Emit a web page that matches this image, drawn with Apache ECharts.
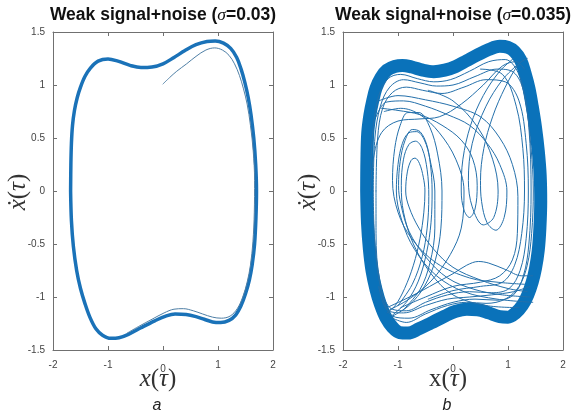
<!DOCTYPE html>
<html>
<head>
<meta charset="utf-8">
<script src="https://cdn.jsdelivr.net/npm/echarts/dist/echarts.min.js"></script>
<style>
html,body{margin:0;padding:0;background:#fff}
#chart{width:576px;height:417px}
</style>
</head>
<body>
<div id="chart"></div>
<script>
// Axis ranges and tick labels shared by both panels
const xTicks = [-2, -1, 0, 1, 2];
const yTicks = [-1.5, -1, -0.5, 0, 0.5, 1, 1.5];
const titles = ['0.03', '0.035'];
const panelLetters = ['a', 'b'];

// Panel a: settled limit cycle (clockwise) and the start-up transient
const cycleA = [[-1.68,0],[-1.675,0.25],[-1.665,0.45],[-1.645,0.62],[-1.61,0.76],[-1.56,0.88],[-1.5,0.98],[-1.42,1.08],[-1.32,1.16],[-1.18,1.225],[-1.0,1.245],[-0.82,1.225],[-0.6,1.185],[-0.4,1.165],[-0.2,1.17],[0.0,1.2],[0.2,1.26],[0.4,1.325],[0.6,1.38],[0.8,1.41],[0.95,1.415],[1.1,1.395],[1.23,1.345],[1.34,1.26],[1.42,1.15],[1.49,1.02],[1.55,0.88],[1.6,0.72],[1.65,0.5],[1.685,0.25],[1.70,0],[1.69,-0.25],[1.665,-0.5],[1.62,-0.7],[1.57,-0.84],[1.5,-0.97],[1.42,-1.08],[1.32,-1.17],[1.2,-1.22],[1.05,-1.24],[0.9,-1.235],[0.75,-1.21],[0.6,-1.185],[0.42,-1.165],[0.22,-1.16],[0.05,-1.18],[-0.15,-1.225],[-0.4,-1.29],[-0.62,-1.35],[-0.8,-1.385],[-0.95,-1.39],[-1.1,-1.36],[-1.22,-1.3],[-1.33,-1.19],[-1.42,-1.06],[-1.5,-0.92],[-1.57,-0.75],[-1.63,-0.52],[-1.665,-0.28],[-1.68,0]];
const transientA = [[0.0,1.01],[0.12,1.07],[0.25,1.13],[0.43,1.2],[0.6,1.27],[0.78,1.33],[0.94,1.35],[1.08,1.33],[1.2,1.28],[1.3,1.2],[1.39,1.09],[1.46,0.97],[1.53,0.82],[1.59,0.62],[1.64,0.38],[1.665,0.1],[1.66,-0.2],[1.635,-0.48],[1.59,-0.7],[1.53,-0.86],[1.45,-1.0],[1.35,-1.11],[1.22,-1.18],[1.06,-1.2],[0.9,-1.19],[0.72,-1.16],[0.55,-1.13],[0.37,-1.11],[0.2,-1.115],[0.02,-1.15],[-0.2,-1.21],[-0.45,-1.28],[-0.65,-1.34]];

// Panel b: dense outer band (centre line) and the inner excursions
const bandB = [[-1.57,0],[-1.565,0.3],[-1.55,0.55],[-1.51,0.72],[-1.46,0.85],[-1.4,0.97],[-1.31,1.07],[-1.2,1.14],[-1.06,1.175],[-0.92,1.185],[-0.75,1.17],[-0.55,1.14],[-0.35,1.125],[-0.15,1.14],[0.05,1.175],[0.25,1.23],[0.45,1.285],[0.65,1.335],[0.85,1.365],[1.0,1.355],[1.12,1.315],[1.23,1.235],[1.31,1.11],[1.38,0.97],[1.44,0.8],[1.5,0.6],[1.55,0.38],[1.585,0.15],[1.595,-0.1],[1.58,-0.35],[1.55,-0.56],[1.5,-0.73],[1.44,-0.86],[1.36,-0.98],[1.26,-1.08],[1.14,-1.15],[1.0,-1.19],[0.85,-1.185],[0.65,-1.15],[0.45,-1.12],[0.25,-1.115],[0.05,-1.135],[-0.15,-1.18],[-0.4,-1.245],[-0.62,-1.3],[-0.82,-1.34],[-0.97,-1.335],[-1.1,-1.285],[-1.22,-1.195],[-1.32,-1.07],[-1.4,-0.93],[-1.47,-0.76],[-1.52,-0.55],[-1.555,-0.3],[-1.57,0]];
const orbitB1 = [[1.35,-0.95],[1.0,-0.92],[0.5,-0.84],[0.0,-0.72],[-0.35,-0.55],[-0.62,-0.35],[-0.8,-0.15],[-0.86,0.0],[-0.83,0.18],[-0.76,0.29],[-0.69,0.31],[-0.61,0.26],[-0.54,0.13],[-0.51,0.0],[-0.53,-0.2],[-0.6,-0.45],[-0.72,-0.7],[-0.88,-0.92],[-1.05,-1.08],[-1.2,-1.15]];
const orbitB2 = [[1.4,-1.0],[0.9,-0.98],[0.4,-0.93],[-0.1,-0.82],[-0.5,-0.62],[-0.8,-0.38],[-0.95,-0.12],[-0.99,0.05],[-0.96,0.28],[-0.87,0.48],[-0.74,0.58],[-0.6,0.56],[-0.48,0.44],[-0.41,0.25],[-0.38,0.0],[-0.4,-0.3],[-0.48,-0.58],[-0.63,-0.85],[-0.85,-1.05],[-1.1,-1.17]];
const orbitB3 = [[1.45,-1.05],[0.8,-1.02],[0.2,-0.95],[-0.3,-0.8],[-0.7,-0.55],[-0.93,-0.28],[-1.03,0.0],[-1.0,0.25],[-0.92,0.45],[-0.8,0.55],[-0.66,0.56],[-0.52,0.48],[-0.42,0.3],[-0.33,0.0],[-0.33,-0.35],[-0.42,-0.68],[-0.6,-0.93],[-0.9,-1.12]];
const orbitB4 = [[1.3,-0.88],[0.8,-0.86],[0.3,-0.82],[-0.3,-0.68],[-0.75,-0.45],[-1.0,-0.2],[-1.1,0.1],[-1.06,0.4],[-0.96,0.62],[-0.82,0.74],[-0.62,0.74],[-0.42,0.6],[-0.28,0.35],[-0.2,0.0],[-0.22,-0.35],[-0.32,-0.65],[-0.52,-0.9],[-0.8,-1.08],[-1.1,-1.18]];
const orbitB5 = [[-1.4,0.7],[-1.3,0.8],[-1.2,0.84],[-0.9,0.85],[-0.5,0.8],[-0.1,0.72],[0.3,0.62],[0.62,0.45],[0.85,0.25],[0.98,0.0],[0.93,-0.25],[0.78,-0.37],[0.62,-0.3],[0.52,-0.1],[0.5,0.1],[0.56,0.4],[0.72,0.7],[0.95,0.98],[1.2,1.2],[1.35,1.25]];
const orbitB6 = [[-1.3,0.78],[-1.0,0.76],[-0.6,0.72],[-0.2,0.62],[0.15,0.48],[0.36,0.3],[0.44,0.05],[0.4,-0.17],[0.3,-0.25],[0.2,-0.18],[0.15,0.0],[0.18,0.3],[0.32,0.62],[0.55,0.9],[0.85,1.13],[1.1,1.25]];
const orbitB7 = [[-1.5,0.0],[-1.45,0.3],[-1.3,0.55],[-1.0,0.66],[-0.6,0.68],[-0.25,0.7],[0.15,0.82],[0.55,1.0],[0.9,1.18],[1.15,1.22],[1.3,1.15]];
const orbitB8 = [[-1.45,0.0],[-1.42,0.5],[-1.32,0.8],[-1.15,0.98],[-0.9,1.05],[-0.6,1.02],[-0.3,0.99],[0.0,1.0],[0.4,1.08],[0.8,1.15],[1.1,1.12],[1.28,0.95],[1.38,0.6],[1.42,0.0],[1.38,-0.5],[1.28,-0.8],[1.1,-0.98],[0.8,-1.03],[0.4,-1.02],[0.0,-1.05],[-0.4,-1.12],[-0.8,-1.2],[-1.1,-1.18],[-1.3,-0.95],[-1.42,-0.5],[-1.45,0.0]];
const orbitB9 = [[-1.4,0.0],[-1.37,0.5],[-1.28,0.78],[-1.1,0.93],[-0.85,0.98],[-0.55,0.95],[-0.2,0.92],[0.2,0.98],[0.6,1.05],[0.95,1.03],[1.2,0.85],[1.33,0.45],[1.37,0.0],[1.33,-0.45],[1.22,-0.75],[1.02,-0.92],[0.7,-0.96],[0.3,-0.95],[-0.1,-0.98],[-0.5,-1.05],[-0.85,-1.13],[-1.15,-1.1],[-1.33,-0.85],[-1.4,-0.4],[-1.4,0.0]];
const orbitB10 = [[1.45,-0.8],[1.25,-0.8],[0.95,-0.74],[0.65,-0.68],[0.46,-0.665],[0.25,-0.7],[0.0,-0.78],[-0.25,-0.85],[-0.6,-0.95],[-0.95,-1.04],[-1.2,-1.1]];
const orbitB11 = [[-0.45,0.95],[0.0,0.85],[0.45,0.6],[0.72,0.3],[0.82,0.0],[0.74,-0.25],[0.55,-0.32],[0.35,-0.15],[0.28,0.1],[0.35,0.45],[0.6,0.8],[0.9,1.05],[1.15,1.18]];
const orbitB12 = [[-1.25,0.75],[-0.95,0.78],[-0.6,0.72],[-0.25,0.55],[0.05,0.3],[0.2,0.0],[0.15,-0.35],[-0.05,-0.6],[-0.4,-0.85],[-0.8,-1.02],[-1.15,-1.12]];
const orbitB13 = [[1.4,-0.9],[1.1,-0.95],[0.7,-0.98],[0.3,-1.0],[-0.1,-1.02],[-0.5,-1.08],[-0.9,-1.15],[-1.2,-1.12],[-1.35,-0.9]];
const orbitB14 = [[-1.5,0.2],[-1.45,0.6],[-1.35,0.9],[-1.18,1.06],[-0.95,1.1],[-0.65,1.06],[-0.35,1.03],[-0.05,1.05],[0.3,1.13],[0.65,1.22],[0.95,1.24],[1.18,1.12],[1.32,0.85],[1.42,0.4],[1.46,0.0],[1.43,-0.4],[1.35,-0.7],[1.2,-0.9],[0.95,-1.02],[0.6,-1.06],[0.25,-1.05],[-0.1,-1.08],[-0.5,-1.16],[-0.85,-1.24],[-1.1,-1.2]];
const orbitB15 = [[1.2,-1.1],[0.6,-1.08],[0.0,-0.98],[-0.4,-0.78],[-0.72,-0.5],[-0.9,-0.2],[-0.94,0.05],[-0.9,0.3],[-0.8,0.44],[-0.68,0.47],[-0.56,0.4],[-0.47,0.2],[-0.44,-0.05],[-0.47,-0.35],[-0.56,-0.62],[-0.74,-0.88],[-1.0,-1.08]];
const orbitB16 = [[-1.35,0.85],[-1.0,0.9],[-0.5,0.86],[0.0,0.8],[0.5,0.7],[0.85,0.5],[1.08,0.25],[1.18,-0.05],[1.17,-0.4],[1.08,-0.65],[0.85,-0.8],[0.5,-0.86],[0.0,-0.9],[-0.5,-1.0],[-0.95,-1.1]];
const orbitB17 = [[0.5,1.15],[0.9,1.1],[1.15,0.8],[1.27,0.4],[1.3,0.0],[1.25,-0.4],[1.12,-0.7],[0.9,-0.86],[0.5,-0.9],[0.0,-0.94],[-0.45,-1.02]];
const orbitsB = [orbitB1, orbitB2, orbitB3, orbitB4, orbitB5, orbitB6, orbitB7, orbitB8, orbitB9, orbitB10, orbitB11, orbitB12, orbitB13, orbitB14, orbitB15, orbitB16, orbitB17];

const AXIS_COLOR = '#707070';
const LABEL_COLOR = '#444';
const grids = [
  { left: 53, top: 32, width: 220, height: 318 },
  { left: 343, top: 32, width: 220, height: 318 }
];

function xAxes(g) {
  const base = {
    type: 'value', gridIndex: g, min: xTicks[0], max: xTicks[xTicks.length - 1], interval: 1,
    splitLine: { show: false },
    axisLine: { show: true, onZero: false, lineStyle: { color: AXIS_COLOR, width: 1 } },
    axisTick: { show: true, inside: true, length: 4, lineStyle: { color: AXIS_COLOR } }
  };
  return [
    Object.assign({}, base, {
      position: 'bottom',
      axisLabel: {
        show: true, margin: 10, fontSize: 10, color: LABEL_COLOR, fontFamily: 'Liberation Sans, Arial, sans-serif',
        formatter: v => v === 0 ? '{z|0}' : String(v),
        rich: { z: { fontSize: 10, color: LABEL_COLOR, padding: [4, 0, 0, 0], fontFamily: 'Liberation Sans, Arial, sans-serif' } }
      }
    }),
    Object.assign({}, base, { position: 'top', axisLabel: { show: false } })
  ];
}
function yAxes(g) {
  const base = {
    type: 'value', gridIndex: g, min: yTicks[0], max: yTicks[yTicks.length - 1], interval: 0.5,
    splitLine: { show: false },
    axisLine: { show: true, onZero: false, lineStyle: { color: AXIS_COLOR, width: 1 } },
    axisTick: { show: true, inside: true, length: 4, lineStyle: { color: AXIS_COLOR } }
  };
  return [
    Object.assign({}, base, {
      position: 'left',
      axisLabel: { show: true, margin: 8, fontSize: 10, color: LABEL_COLOR, fontFamily: 'Liberation Sans, Arial, sans-serif' }
    }),
    Object.assign({}, base, { position: 'right', axisLabel: { show: false } })
  ];
}

function trace(data, g, color, width) {
  return {
    type: 'line', xAxisIndex: 2 * g, yAxisIndex: 2 * g, data: data,
    showSymbol: false, smooth: 0.35, silent: true,
    lineStyle: { color: color, width: width, cap: 'round', join: 'round' }
  };
}

const series = [
  trace(cycleA, 0, '#1a72b8', 3.5),
  trace(transientA, 0, '#4f7fa6', 1),
  trace(bandB, 1, '#0a72ba', 13)
];
orbitsB.forEach(o => series.push(trace(o, 1, '#2470ab', 1)));

const serif = '"Liberation Serif", "DejaVu Serif", serif';
const sans = '"Liberation Sans", Arial, sans-serif';
const graphics = [];
grids.forEach((g, i) => {
  const cx = g.left + g.width / 2;
  graphics.push({
    type: 'text', x: cx, y: 15,
    style: {
      text: '{b|Weak signal+noise (}{s|σ}{b|=' + titles[i] + ')}',
      align: 'center', verticalAlign: 'middle',
      rich: {
        b: { font: 'bold 17.5px ' + sans, fill: '#111' },
        s: { font: 'italic 17.5px ' + serif, fill: '#111' }
      }
    }
  });
  graphics.push({
    type: 'text', x: g.left - 35, y: 192, rotation: Math.PI / 2,
    style: {
      text: '{i|ẋ}{n|(}{i|τ}{n|)}',
      align: 'center', verticalAlign: 'middle',
      rich: {
        i: { font: 'italic 25px ' + serif, fill: '#333' },
        n: { font: '25px ' + serif, fill: '#333' }
      }
    }
  });
  graphics.push({
    type: 'text', x: cx - 5, y: 379,
    style: {
      text: i === 0 ? '{i|x}{n|(}{i|τ}{n|)}' : '{n|x(}{i|τ}{n|)}',
      align: 'center', verticalAlign: 'middle',
      rich: {
        i: { font: 'italic 25px ' + serif, fill: '#333' },
        n: { font: '25px ' + serif, fill: '#333' }
      }
    }
  });
  graphics.push({
    type: 'text', x: cx - 6, y: 406,
    style: { text: panelLetters[i], font: 'italic 16px ' + sans, fill: '#222', align: 'center', verticalAlign: 'middle' }
  });
});

const chart = echarts.init(document.getElementById('chart'), null, { renderer: 'canvas' });
chart.setOption({
  animation: false,
  backgroundColor: '#fff',
  grid: grids,
  xAxis: xAxes(0).concat(xAxes(1)),
  yAxis: yAxes(0).concat(yAxes(1)),
  series: series,
  graphic: graphics
});
</script>
</body>
</html>
